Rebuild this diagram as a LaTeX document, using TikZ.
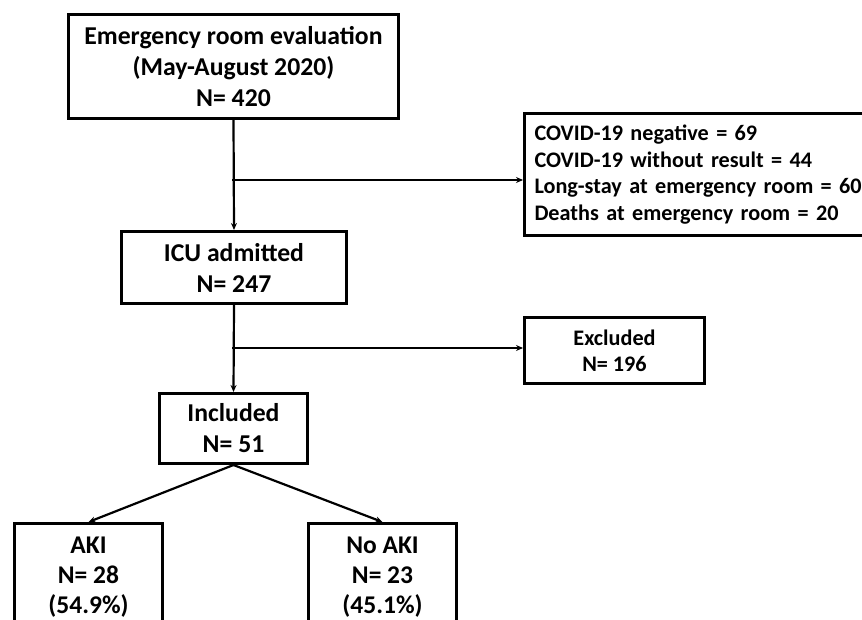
\documentclass[tikz,border=0pt]{standalone}
\usepackage{fontspec}
\setmainfont{Carlito}
\usetikzlibrary{arrows.meta,calc}
\begin{document}
\begin{tikzpicture}[x=1pt,y=-1pt,
  box/.style={draw=black,line width=3pt,rectangle,inner sep=0pt,align=center,font=\bfseries\fontsize{25.7}{31}\selectfont},
  smallfont/.style={font=\bfseries\fontsize{22.2}{26.4}\selectfont},
  arr/.style={line width=2.2pt,-{Stealth[length=7pt,width=6pt]}}]
\useasboundingbox (0,0) rectangle (862,620);
\clip (0,0) rectangle (862,620);
\node[box,anchor=north west,minimum width=330pt,minimum height=104pt] (top) at (67,13)
  {Emergency room evaluation\\(May-August 2020)\\N= 420};
\node[box,anchor=north west,minimum width=225pt,minimum height=72pt] (icu) at (120,230)
  {ICU admitted\\N= 247};
\node[box,anchor=north west,minimum width=148pt,minimum height=70pt] (inc) at (158,392)
  {Included\\N= 51};
\node[box,smallfont,anchor=north west,text width=345pt,inner xsep=10pt,minimum height=122pt,align=left] (excl1) at (523,112)
  {COVID-19 negative = 69\\COVID-19 without result = 44\\Long-stay at emergency room = 60\\Deaths at emergency room = 20};
\node[box,smallfont,anchor=north west,minimum width=180pt,minimum height=66pt] (excl2) at (523,316)
  {Excluded\\N= 196};
\node[box,anchor=north west,minimum width=148pt,minimum height=108pt,font=\bfseries\fontsize{25.5}{30}\selectfont] (aki) at (13,522)
  {AKI\\N= 28\\(54.9\%)};
\node[box,anchor=north west,minimum width=148pt,minimum height=108pt,font=\bfseries\fontsize{25.5}{30}\selectfont] (noaki) at (307,522)
  {No AKI\\N= 23\\(45.1\%)};
\coordinate (b1) at (232,180);
\coordinate (b2) at (232,348);
\draw[arr] (top.south) -- (icu.north);
\draw[arr] (b1) -- (excl1.west |- b1);
\draw[arr] (icu.south) -- (inc.north);
\draw[arr] (b2) -- (excl2.west |- b2);
\draw[arr] (inc.south) -- (aki.north);
\draw[arr] (inc.south) -- (noaki.north);
\end{tikzpicture}
\end{document}
